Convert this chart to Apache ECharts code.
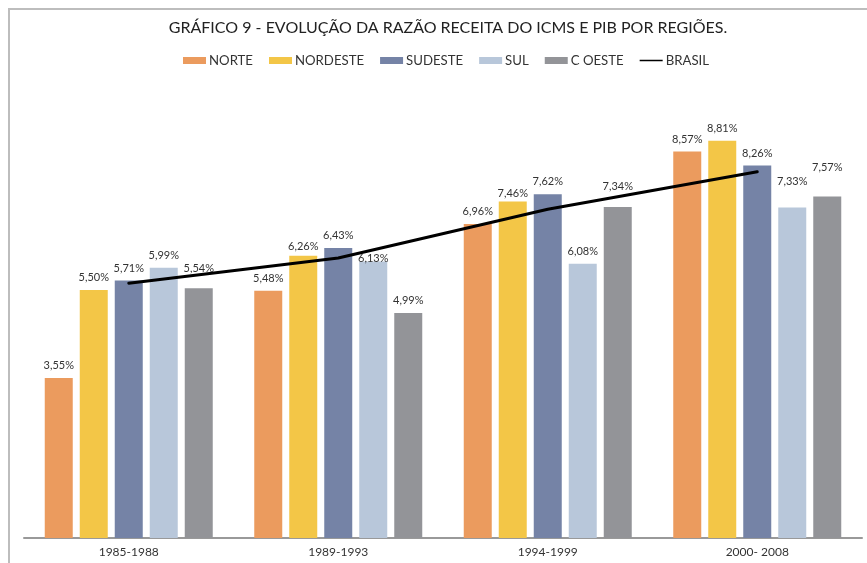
<!DOCTYPE html>
<html>
<head>
<meta charset="utf-8">
<script src="https://cdn.jsdelivr.net/npm/echarts@6/dist/echarts.min.js"></script>
<style>
  html, body { margin: 0; padding: 0; background: #fff; }
  #main { width: 867px; height: 563px; position: relative; }
  #frame { position: absolute; left: 8px; top: 8px; right: 0; bottom: 0;
    border-top: 2px solid #bdbdbd; border-left: 2px solid #bdbdbd; pointer-events: none; }
</style>
</head>
<body>
<div id="main"></div>
<div id="frame"></div>
<script>
var periods = ['1985-1988', '1989-1993', '1994-1999', '2000- 2008'];
var norte = [3.55, 5.48, 6.96, 8.57];
var nordeste = [5.50, 6.26, 7.46, 8.81];
var sudeste = [5.71, 6.43, 7.62, 8.26];
var sul = [5.99, 6.13, 6.08, 7.33];
var cOeste = [5.54, 4.99, 7.34, 7.57];
var brasil = [5.65, 6.21, 7.29, 8.12];

var FONT = 'Lato';

// nudges for labels that were moved in the original to dodge the line
var nudge = {
  'NORDESTE-1': [0, 3], 'NORDESTE-2': [0, 4],
  'SUL-1': [0, 9], 'SUL-3': [0, -13],
  'C OESTE-0': [0, -7], 'C OESTE-2': [0, -8], 'C OESTE-3': [0, -17]
};

function barSeries(name, values, color) {
  return {
    name: name,
    type: 'bar',
    barWidth: 28,
    barGap: '25%',
    itemStyle: { color: color },
    data: values.map(function(v, i) {
      var item = { value: v };
      if (nudge[name + '-' + i]) item.label = { offset: nudge[name + '-' + i] };
      return item;
    }),
    label: {
      show: true,
      position: 'top',
      distance: 7,
      color: '#333',
      fontFamily: FONT,
      fontSize: 11,
      formatter: function(p) {
        return p.value.toFixed(2).replace('.', ',') + '%';
      }
    }
  };
}

var option = {
  animation: false,
  title: {
    text: 'GRÁFICO 9 - EVOLUÇÃO DA RAZÃO RECEITA DO ICMS E PIB POR REGIÕES.',
    left: 443,
    textAlign: 'center',
    top: 15,
    textStyle: { fontFamily: FONT, fontSize: 16, fontWeight: 'normal', color: '#222' }
  },
  legend: {
    top: 49,
    left: 178,
    itemWidth: 23,
    itemHeight: 7,
    itemGap: 16,
    textStyle: { fontFamily: FONT, fontSize: 13.2, color: '#333', padding: [0, 0, 0, -2] },
    data: [
      { name: 'NORTE', icon: 'rect' },
      { name: 'NORDESTE', icon: 'rect' },
      { name: 'SUDESTE', icon: 'rect' },
      { name: 'SUL', icon: 'rect' },
      { name: 'C OESTE', icon: 'rect' },
      { name: 'BRASIL', icon: 'path://M0,0L0.01,0L0.01,0.01ZM0,2.4L30,2.4L30,4.6L0,4.6ZM29.99,7L30,7L30,6.99Z' }
    ]
  },
  grid: { left: 24, right: 5, top: 87, bottom: 25 },
  xAxis: {
    type: 'category',
    data: periods,
    axisLine: { lineStyle: { color: '#999', width: 2 } },
    axisTick: { show: false },
    axisLabel: { color: '#333', fontFamily: FONT, fontSize: 12, margin: 8 }
  },
  yAxis: {
    type: 'value',
    min: 0,
    max: 10,
    show: false,
    splitLine: { show: false }
  },
  series: [
    barSeries('NORTE', norte, '#EB9B5E'),
    barSeries('NORDESTE', nordeste, '#F3C647'),
    barSeries('SUDESTE', sudeste, '#7583A6'),
    barSeries('SUL', sul, '#B8C7DA'),
    barSeries('C OESTE', cOeste, '#939498'),
    {
      name: 'BRASIL',
      type: 'line',
      data: brasil,
      symbol: 'none',
      showSymbol: false,
      z: 5,
      lineStyle: { color: '#000', width: 3, cap: 'round', join: 'round' },
      itemStyle: { color: '#000' }
    }
  ]
};

var chart = echarts.init(document.getElementById('main'));
chart.setOption(option);
</script>
</body>
</html>
